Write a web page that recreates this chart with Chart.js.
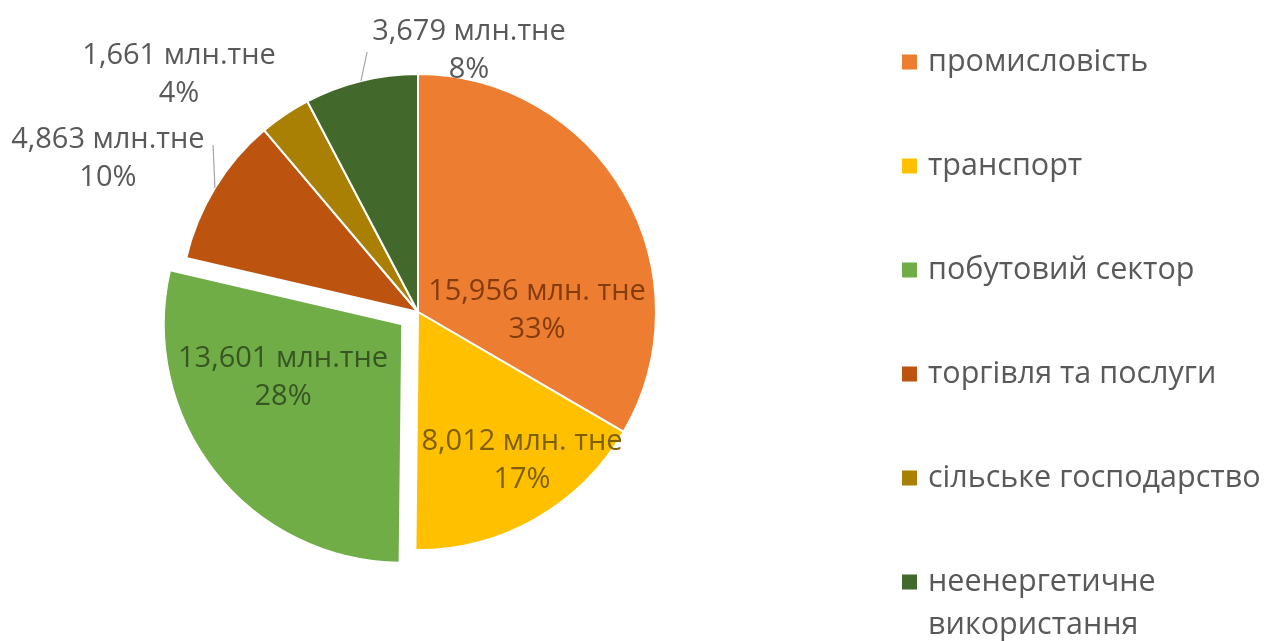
<!DOCTYPE html>
<html><head><meta charset="utf-8">
<script src="https://cdn.jsdelivr.net/npm/chart.js@4"></script>
<style>html,body{margin:0;padding:0;background:#fff;overflow:hidden}canvas{display:block}</style>
</head><body>
<canvas id="c" width="1272" height="641"></canvas>
<script>
// ---- data ----
const categories = ['промисловість', 'транспорт', 'побутовий сектор', 'торгівля та послуги', 'сільське господарство', 'неенергетичне використання'];
const values = [15.956, 8.012, 13.601, 4.863, 1.661, 3.679];
const valueLabels = ['15,956 млн. тне', '8,012 млн. тне', '13,601 млн.тне', '4,863 млн.тне', '1,661 млн.тне', '3,679 млн.тне'];
const percentLabels = ['33%', '17%', '28%', '10%', '4%', '8%'];

// ---- styles ----
const sliceColors = ['#ED7D31', '#FFC000', '#70AD47', '#BC540F', '#A98004', '#43682B'];
const labelColors = ['#843C0C', '#7F6000', '#375623', '#595959', '#595959', '#595959'];
const explodeOffsets = [0, 0, 80, 0, 0, 0];
// label anchor relative to pie centre, in units of the radius
const labelAnchors = [[0.500, -0.013], [0.437, 0.618], [-0.567, 0.269], [-1.303, -0.651], [-1.004, -1.004], [0.214, -1.105]];
const leaderEnds = [null, null, null, [-0.861, -0.702], null, [-0.214, -1.092]];
const FONT = '"Open Sans", "Noto Sans", sans-serif';
const LABEL_SIZE = 29, LABEL_LINE = 38, LABEL_SHIFT = 2;
const LEGEND_SIZE = 30.5, LEGEND_LINE = 43;

const sliceLabels = {
  id: 'sliceLabels',
  afterDatasetsDraw(chart) {
    const ctx = chart.ctx;
    const meta = chart.getDatasetMeta(0);
    ctx.save();
    ctx.textAlign = 'center';
    ctx.textBaseline = 'middle';
    ctx.font = LABEL_SIZE + 'px ' + FONT;
    meta.data.forEach((arc, i) => {
      const p = arc.getProps(['x', 'y', 'outerRadius', 'startAngle', 'endAngle'], true);
      const R = p.outerRadius;
      const mid = (p.startAngle + p.endAngle) / 2;
      if (leaderEnds[i]) {
        ctx.strokeStyle = '#A6A6A6';
        ctx.lineWidth = 1.2;
        ctx.beginPath();
        ctx.moveTo(p.x + Math.cos(mid) * R, p.y + Math.sin(mid) * R);
        ctx.lineTo(p.x + leaderEnds[i][0] * R, p.y + leaderEnds[i][1] * R);
        ctx.stroke();
      }
      const lx = p.x + labelAnchors[i][0] * R;
      const ly = p.y + labelAnchors[i][1] * R + LABEL_SHIFT;
      ctx.fillStyle = labelColors[i];
      ctx.fillText(valueLabels[i], lx, ly - LABEL_LINE / 2);
      ctx.fillText(percentLabels[i], lx, ly + LABEL_LINE / 2);
    });
    ctx.restore();
  }
};

const sideLegend = {
  id: 'sideLegend',
  afterDraw(chart) {
    const ctx = chart.ctx;
    const labels = chart.data.labels;
    const colors = chart.data.datasets[0].backgroundColor;
    const boxX = 902, textX = 928, top = 62, step = 104, box = 15;
    const maxW = chart.width - textX - 4;
    ctx.save();
    ctx.font = LEGEND_SIZE + 'px ' + FONT;
    ctx.textAlign = 'left';
    ctx.textBaseline = 'middle';
    labels.forEach((lab, i) => {
      const y = top + i * step;
      const words = lab.split(' ');
      const lines = [];
      let cur = '';
      words.forEach(w => {
        const t = cur ? cur + ' ' + w : w;
        if (cur && ctx.measureText(t).width > maxW) { lines.push(cur); cur = w; } else cur = t;
      });
      lines.push(cur);
      ctx.fillStyle = colors[i];
      ctx.fillRect(boxX, y - box / 2, box, box);
      ctx.fillStyle = '#595959';
      lines.forEach((ln, k) => ctx.fillText(ln, textX, y + k * LEGEND_LINE));
    });
    ctx.restore();
  }
};

new Chart(document.getElementById('c'), {
  type: 'pie',
  data: {
    labels: categories,
    datasets: [{
      data: values,
      backgroundColor: sliceColors,
      borderColor: '#FFFFFF',
      borderWidth: 2,
      offset: explodeOffsets,
      hoverOffset: 0
    }]
  },
  options: {
    responsive: false,
    animation: false,
    radius: 238,
    layout: { padding: { left: 0, right: 436, top: 0, bottom: 17 } },
    plugins: { legend: { display: false }, tooltip: { enabled: false } },
    events: []
  },
  plugins: [sliceLabels, sideLegend]
});
</script>
</body></html>
